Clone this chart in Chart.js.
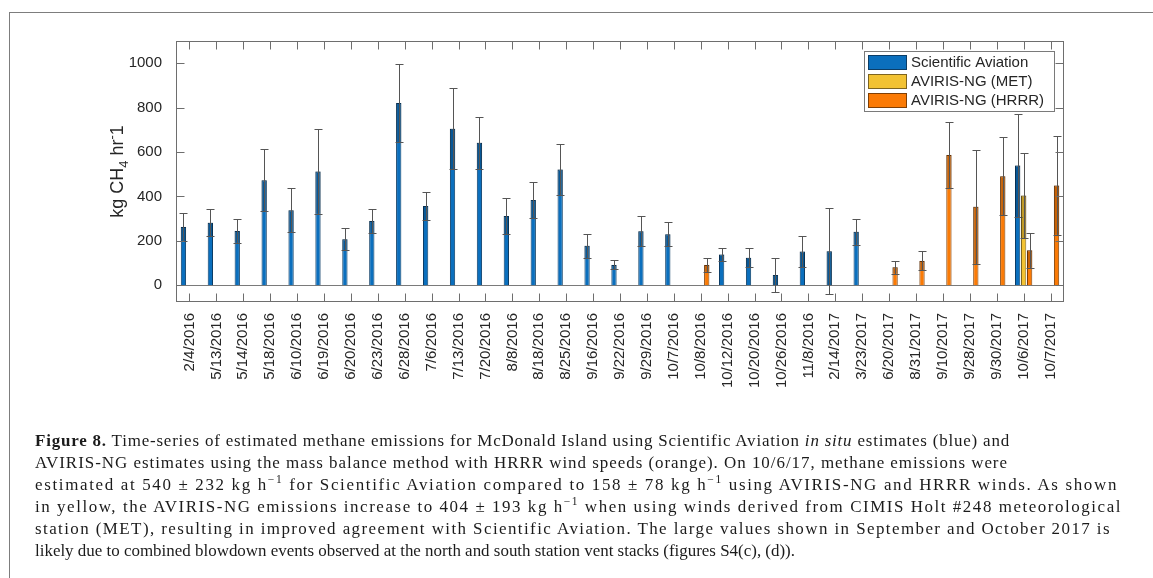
<!DOCTYPE html>
<html>
<head>
<meta charset="utf-8">
<script src="https://cdn.jsdelivr.net/npm/chart.js@4.4.1/dist/chart.umd.min.js"></script>
<style>
    html, body { margin: 0; padding: 0; background: #fff; width: 1153px; height: 578px; overflow: hidden; }
    #frame { position: absolute; left: 9px; top: 12px; width: 1170px; height: 620px; border: 1px solid #7d7d7d; box-sizing: border-box; }
    #wrap { position: absolute; left: 0; top: 0; width: 1153px; height: 578px; }
    #caption { position: absolute; left: 35px; top: 429px; font-family: "Liberation Serif", "Times New Roman", serif; font-size: 17.5px; line-height: 22px; color: #1b1b1b; }
    #caption div { white-space: nowrap; width: max-content; transform-origin: 0 0; }
    #caption sup { font-size: 0.68em; line-height: 0; vertical-align: 0.55em; }
</style>
</head>
<body>
<div id="frame"></div>
<div id="wrap"><canvas id="grafico" width="1153" height="578"></canvas></div>
<div id="caption">
    <div><b>Figure 8.</b> Time-series of estimated methane emissions for McDonald Island using Scientific Aviation <i>in situ</i> estimates (blue) and</div>
    <div>AVIRIS-NG estimates using the mass balance method with HRRR wind speeds (orange). On 10/6/17, methane emissions were</div>
    <div>estimated at 540 &plusmn; 232 kg h<sup>&minus;1</sup> for Scientific Aviation compared to 158 &plusmn; 78 kg h<sup>&minus;1</sup> using AVIRIS-NG and HRRR winds. As shown</div>
    <div>in yellow, the AVIRIS-NG emissions increase to 404 &plusmn; 193 kg h<sup>&minus;1</sup> when using winds derived from CIMIS Holt #248 meteorological</div>
    <div>station (MET), resulting in improved agreement with Scientific Aviation. The large values shown in September and October 2017 is</div>
    <div>likely due to combined blowdown events observed at the north and south station vent stacks (figures S4(c), (d)).</div>
</div>
<script>
// --- Dados ---
const dates = ['2/4/2016', '5/13/2016', '5/14/2016', '5/18/2016', '6/10/2016', '6/19/2016', '6/20/2016',
    '6/23/2016', '6/28/2016', '7/6/2016', '7/13/2016', '7/20/2016', '8/8/2016', '8/18/2016', '8/25/2016',
    '9/16/2016', '9/22/2016', '9/29/2016', '10/7/2016', '10/8/2016', '10/12/2016', '10/20/2016', '10/26/2016',
    '11/8/2016', '2/14/2017', '3/23/2017', '6/20/2017', '8/31/2017', '9/10/2017', '9/28/2017', '9/30/2017',
    '10/6/2017', '10/7/2017'];

const saDates = ['2/4/2016', '5/13/2016', '5/14/2016', '5/18/2016', '6/10/2016', '6/19/2016', '6/20/2016',
    '6/23/2016', '6/28/2016', '7/6/2016', '7/13/2016', '7/20/2016', '8/8/2016', '8/18/2016', '8/25/2016',
    '9/16/2016', '9/22/2016', '9/29/2016', '10/7/2016', '10/12/2016', '10/20/2016', '10/26/2016',
    '11/8/2016', '2/14/2017', '3/23/2017', '10/6/2017'];
const saValues = [263, 282, 245, 473, 338, 513, 208, 290, 821, 357, 705, 642, 312, 384, 522,
    178, 92, 244, 230, 139, 124, 46, 152, 154, 241, 540];
const saErrors = [63, 60, 53, 139, 100, 190, 50, 55, 176, 63, 182, 117, 83, 82, 115,
    55, 20, 68, 55, 28, 42, 77, 70, 192, 58, 232];

const metDates = ['10/6/2017'];
const metValues = [404];
const metErrors = [193];

const hrrrDates = ['10/8/2016', '6/20/2017', '8/31/2017', '9/10/2017', '9/28/2017', '9/30/2017', '10/6/2017', '10/7/2017'];
const hrrrValues = [92, 82, 110, 587, 354, 491, 158, 450];
const hrrrErrors = [31, 29, 43, 150, 257, 175, 78, 222];

const yTicks = [0, 200, 400, 600, 800, 1000];

// larguras alvo das linhas da legenda (layout)
const captionWidths = [975, 973, 1083, 1087, 1076, 760];

const toPoints = (xs, ys) => xs.map((x, i) => ({ x, y: ys[i] }));

// --- Plugins ---
const errorBars = {
    id: 'errorBars',
    afterDatasetsDraw(chart) {
        const { ctx, scales: { y } } = chart;
        ctx.save();
        chart.data.datasets.forEach((ds, i) => {
            const meta = chart.getDatasetMeta(i);
            meta.data.forEach((bar, j) => {
                const v = ds.data[j].y;
                const e = ds.errors[j];
                const yVal = y.getPixelForValue(v);
                const yBase = y.getPixelForValue(Math.max(v - e, 0));
                // faixa escura dentro da barra
                ctx.fillStyle = 'rgba(0,0,0,0.2)';
                ctx.fillRect(bar.x - bar.width / 2, yVal, bar.width, yBase - yVal);

                const x = Math.round(bar.x) + 0.5;
                const yTop = Math.round(y.getPixelForValue(v + e)) + 0.5;
                const yLow = Math.round(y.getPixelForValue(v - e)) + 0.5;
                ctx.strokeStyle = '#555';
                ctx.lineWidth = 1;
                ctx.beginPath();
                ctx.moveTo(x, yTop); ctx.lineTo(x, yLow);
                ctx.moveTo(x - 4, yTop); ctx.lineTo(x + 4, yTop);
                ctx.moveTo(x - 4, yLow); ctx.lineTo(x + 4, yLow);
                ctx.stroke();
            });
        });
        ctx.restore();
    }
};

const axisBox = {
    id: 'axisBox',
    beforeDatasetsDraw(chart) {
        const { ctx, chartArea: a, scales: { y } } = chart;
        const y0 = Math.round(y.getPixelForValue(0)) + 0.5;
        ctx.save();
        ctx.strokeStyle = '#7a7a7a';
        ctx.lineWidth = 1;
        ctx.beginPath();
        ctx.moveTo(a.left, y0); ctx.lineTo(a.right, y0);
        ctx.stroke();
        ctx.restore();
    },
    afterDraw(chart) {
        const { ctx, chartArea: a, scales: { x, y } } = chart;
        const L = Math.round(a.left) + 0.5, R = Math.round(a.right) - 0.5;
        const T = Math.round(a.top) + 0.5, B = Math.round(a.bottom) - 0.5;
        ctx.save();
        ctx.strokeStyle = '#6e6e6e';
        ctx.lineWidth = 1;
        ctx.strokeRect(L, T, R - L, B - T);
        ctx.beginPath();
        x.ticks.forEach((t, i) => {
            const px = Math.round(x.getPixelForTick(i)) + 0.5;
            ctx.moveTo(px, B); ctx.lineTo(px, B - 8);
            ctx.moveTo(px, T); ctx.lineTo(px, T + 8);
        });
        y.ticks.forEach(t => {
            const py = Math.round(y.getPixelForValue(t.value)) + 0.5;
            ctx.moveTo(L, py); ctx.lineTo(L + 8, py);
            ctx.moveTo(R, py); ctx.lineTo(R - 8, py);
        });
        ctx.stroke();
        ctx.restore();
    }
};

const yTitle = {
    id: 'yTitle',
    afterDraw(chart) {
        const ctx = chart.ctx;
        const fam = '"Liberation Sans", Arial, sans-serif';
        const parts = [
            { t: 'kg CH', size: 18, dy: 0 },
            { t: '4', size: 13, dy: 5 },
            { t: ' hr', size: 18, dy: 0 },
            { t: '-', size: 13, dy: -7 },
            { t: '1', size: 18, dy: 0 }
        ];
        ctx.save();
        let total = 0;
        parts.forEach(p => { ctx.font = `${p.size}px ${fam}`; p.w = ctx.measureText(p.t).width; total += p.w; });
        ctx.translate(120, (chart.chartArea.top + chart.chartArea.bottom) / 2);
        ctx.rotate(-Math.PI / 2);
        ctx.fillStyle = '#262626';
        ctx.textBaseline = 'alphabetic';
        let px = -total / 2;
        parts.forEach(p => {
            ctx.font = `${p.size}px ${fam}`;
            ctx.fillText(p.t, px, 3 + p.dy);
            px += p.w;
        });
        ctx.restore();
    }
};

const legendBox = {
    id: 'legendBox',
    afterDraw(chart) {
        const ctx = chart.ctx;
        const bx = 864.5, by = 51.5, bw = 190, bh = 60;
        ctx.save();
        ctx.fillStyle = '#fff';
        ctx.fillRect(bx, by, bw, bh);
        ctx.strokeStyle = '#7a7a7a';
        ctx.lineWidth = 1;
        ctx.strokeRect(bx, by, bw, bh);
        ctx.font = '15px "Liberation Sans", Arial, sans-serif';
        ctx.textBaseline = 'middle';
        chart.data.datasets.forEach((ds, i) => {
            const cy = 62 + i * 19;
            ctx.fillStyle = ds.backgroundColor;
            ctx.fillRect(868, cy - 7, 39, 15);
            ctx.strokeStyle = ds.borderColor;
            ctx.strokeRect(868.5, cy - 6.5, 38, 14);
            ctx.fillStyle = '#262626';
            ctx.fillText(ds.label, 911, cy + 1);
        });
        ctx.restore();
    }
};

// --- Gráfico ---
Chart.defaults.font.family = '"Liberation Sans", Arial, sans-serif';
Chart.defaults.color = '#262626';

new Chart(document.getElementById('grafico'), {
    type: 'bar',
    data: {
        labels: dates,
        datasets: [
            {
                label: 'Scientific Aviation',
                data: toPoints(saDates, saValues),
                errors: saErrors,
                backgroundColor: '#0b6fbd',
                borderColor: '#0c3d66',
                borderWidth: 1
            },
            {
                label: 'AVIRIS-NG (MET)',
                data: toPoints(metDates, metValues),
                errors: metErrors,
                backgroundColor: '#f2c233',
                borderColor: '#7d6420',
                borderWidth: 1
            },
            {
                label: 'AVIRIS-NG (HRRR)',
                data: toPoints(hrrrDates, hrrrValues),
                errors: hrrrErrors,
                backgroundColor: '#fa7a05',
                borderColor: '#7f3f05',
                borderWidth: 1
            }
        ]
    },
    options: {
        responsive: false,
        animation: false,
        categoryPercentage: 0.67,
        barPercentage: 0.88,
        layout: { padding: { left: 0, top: 41, right: 89, bottom: 0 } },
        plugins: { legend: { display: false }, tooltip: { enabled: false } },
        scales: {
            x: {
                grid: { display: false },
                border: { display: false },
                ticks: { autoSkip: false, minRotation: 90, maxRotation: 90, padding: 3, font: { size: 15 } },
                afterFit: (scale) => { scale.height = 578 - 302; }
            },
            y: {
                min: -75,
                max: 1100,
                grid: { display: false },
                border: { display: false },
                ticks: { padding: 6, font: { size: 15 }, callback: (v) => String(v) },
                afterBuildTicks: (scale) => { scale.ticks = yTicks.map(value => ({ value })); },
                afterFit: (scale) => { scale.width = 176; }
            }
        }
    },
    plugins: [axisBox, errorBars, yTitle, legendBox]
});

// legenda: fonte condensada como a original; cada linha chega à sua largura pelo espaçamento entre letras
const linhas = [...document.querySelectorAll('#caption div')];
const larguraUltima = linhas[linhas.length - 1].getBoundingClientRect().width;
const fator = captionWidths[linhas.length - 1] / larguraUltima;
linhas.forEach((line, i) => {
    const w = line.getBoundingClientRect().width;
    const letras = line.textContent.length;
    const extra = captionWidths[i] / fator - w;
    if (i < linhas.length - 1) {
        line.style.letterSpacing = `${extra / letras}px`;
    }
    line.style.transform = `scaleX(${fator})`;
});
</script>
</body>
</html>
